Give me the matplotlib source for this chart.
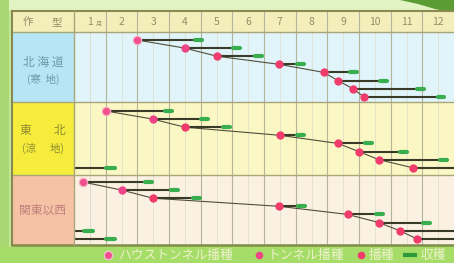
import matplotlib
matplotlib.use("Agg")
import matplotlib.pyplot as plt
from matplotlib.patches import Rectangle, Polygon
from matplotlib.lines import Line2D

plt.rcParams['font.family'] = ['Noto Sans CJK JP', 'DejaVu Sans']

# ---------------- data ----------------
months = ['1', '2', '3', '4', '5', '6', '7', '8', '9', '10', '11', '12']
regions = ['北海道', '東北', '関東以西']
region_sub = ['(寒 地)', '(涼 地)', '']

# month axis: month k spans [k-0.5, k+0.5]
hokkaido_sow = [2.49, 4.00, 5.01, 6.97, 8.39, 8.83, 9.30, 9.65]
hokkaido_end = [4.54, 5.74, 6.43, 7.76, 9.43, 10.37, 11.54, 12.20]
tohoku_sow = [1.51, 2.99, 4.00, 7.00, 8.83, 9.49, 10.12, 11.19]
tohoku_end = [3.59, 4.73, 5.42, 7.76, 9.90, 11.00, 12.27, 12.50]
tohoku_wrap_end = [None, None, None, None, None, None, None, 1.79]
kanto_sow = [0.78, 2.01, 2.99, 6.97, 9.14, 10.12, 10.78, 11.32]
kanto_end = [2.96, 3.78, 4.47, 7.79, 10.25, 11.73, 12.50, 12.50]
kanto_wrap_end = [None, None, None, None, None, None, 1.10, 1.79]
sow_type = ['house', 'tunnel', 'open', 'open', 'open', 'open', 'open', 'open']

legend_labels = ['ハウストンネル播種', 'トンネル播種', '播種', '収穫']

# ---------------- layout ----------------
W, H = 454, 263
fig = plt.figure(figsize=(W / 100, H / 100), dpi=100)
fig.patch.set_facecolor('#c4e89a')


def fx(x):
    return x / W


def fy(y):
    return 1 - y / H


def frect(x0, y0, x1, y1, fc, ec='none', lw=0, z=0):
    fig.add_artist(Rectangle((fx(x0), fy(y1)), fx(x1) - fx(x0), fy(y0) - fy(y1),
                             transform=fig.transFigure, facecolor=fc,
                             edgecolor=ec, linewidth=lw, zorder=z))


def fline(xs, ys, color, lw, z=2):
    fig.add_artist(Line2D([fx(v) for v in xs], [fy(v) for v in ys],
                          transform=fig.transFigure, color=color, lw=lw, zorder=z))


# outer decoration
frect(0, 0, W, 11, '#e2f3c4')
frect(0, 0, 9, H, '#a9d873')
frect(0, 247, W, H, '#a6dd68')
fig.add_artist(Polygon([(fx(400), fy(0)), (fx(454), fy(0)), (fx(454), fy(13)),
                        (fx(435), fy(9)), (fx(418), fy(4))],
                       transform=fig.transFigure, facecolor='#5c9c34',
                       edgecolor='none', zorder=1))

TL, LC, TR = 12, 74, 454
TT, HB = 11, 32
sec_bounds = [(32, 102), (102, 175), (175, 245)]
label_bg = ['#b6e6f6', '#f5ec3c', '#f5c2a6']
body_bg = ['#e0f4fa', '#fbf7c4', '#fbf1e2']
label_fg = ['#6c98a6', '#8f8830', '#bf7f7c']
hdr_fg = '#948e68'

# header
frect(TL, TT, TR, HB, '#f4eebb', z=1)
fig.text(fx(28), fy(22), '作', fontsize=7.5, color=hdr_fg, ha='center', va='center')
fig.text(fx(57), fy(22), '型', fontsize=7.5, color=hdr_fg, ha='center', va='center')

# label column
for i, (y0, y1) in enumerate(sec_bounds):
    frect(TL, y0, LC, y1, label_bg[i], z=1)

fig.text(fx(43), fy(62), '北 海 道', fontsize=8.5, color=label_fg[0], ha='center', va='center')
fig.text(fx(43), fy(79), '(寒  地)', fontsize=7.5, color=label_fg[0], ha='center', va='center')
fig.text(fx(25), fy(131), '東', fontsize=8.5, color=label_fg[1], ha='center', va='center')
fig.text(fx(60), fy(131), '北', fontsize=8.5, color=label_fg[1], ha='center', va='center')
fig.text(fx(43), fy(148), '(涼      地)', fontsize=7.5, color=label_fg[1], ha='center', va='center')
fig.text(fx(43), fy(210), '関東以西', fontsize=8.5, color=label_fg[2], ha='center', va='center')

# ---------------- body axes ----------------
ax = fig.add_axes([fx(LC), fy(245), fx(TR) - fx(LC), fy(TT) - fy(245)])
ax.set_xlim(0.5, 12.5)
ax.set_ylim(245, TT)
ax.axis('off')
ax.set_zorder(3)
ax.patch.set_alpha(0)

for i, (y0, y1) in enumerate(sec_bounds):
    ax.add_patch(Rectangle((0.5, y0), 12, y1 - y0, facecolor=body_bg[i],
                           edgecolor='none', zorder=0))
ax.add_patch(Rectangle((0.5, TT), 12, HB - TT, facecolor='#f4eebb', edgecolor='none', zorder=0))

for k in range(1, 13):
    ax.text(k, 22, months[k - 1], fontsize=7.5, color=hdr_fg, ha='center', va='center', zorder=5)
ax.text(1.3, 23.5, '月', fontsize=4.5, color=hdr_fg, ha='center', va='center', zorder=5)

# grid lines
for k in range(1, 12):
    ax.plot([k + 0.5, k + 0.5], [TT, 245], color='#b4b39c', lw=0.8, zorder=1)
    ax.plot([k, k], [HB, 245], color='#dcdccc', lw=0.5, zorder=1)
ax.plot([12, 12], [HB, 245], color='#dcdccc', lw=0.5, zorder=1)
ax.plot([1, 1], [HB, 245], color='#dcdccc', lw=0.5, zorder=1)

# borders (figure-level)
for y in [HB, 102, 175]:
    fline([TL, TR], [y, y], '#a8a678', 1.0, z=4)
fline([TL, TR], [TT, TT], '#8a8a50', 1.5, z=4)
fline([TL, TR], [245, 245], '#7f8a45', 1.8, z=4)
fline([TL, TL], [TT, 245], '#8a8a50', 1.5, z=4)
fline([LC, LC], [TT, 245], '#a8a678', 1.0, z=4)

sow_colors = {'house': '#f0508c', 'tunnel': '#ee4488', 'open': '#f03c6c'}
line_col = '#3a3a28'
green = '#38ae4e'


def draw_section(y_top, sows, ends, wraps):
    ys = [y_top + 8 + 8.1 * i for i in range(len(sows))]
    ax.plot(sows, ys, color='#4e4e3c', lw=0.8, zorder=2)
    for s, e, w, y, t in zip(sows, ends, wraps, ys, sow_type):
        ax.plot([s, e], [y, y], color=line_col, lw=1.5, zorder=3, solid_capstyle='butt')
        if e < 12.45:
            ax.plot([e - 0.22, e], [y, y], color=green, lw=3.0, zorder=4, solid_capstyle='round')
        if w is not None:
            ax.plot([0.5, w], [y, y], color=line_col, lw=1.5, zorder=3, solid_capstyle='butt')
            ax.plot([w - 0.28, w], [y, y], color=green, lw=3.0, zorder=4, solid_capstyle='round')
        if t == 'house':
            ax.plot([s], [y], 'o', ms=6, color=sow_colors[t], mec='#f8b0c8', mew=0.8, zorder=5)
        else:
            ax.plot([s], [y], 'o', ms=6, color=sow_colors[t], mec='none', zorder=5)


draw_section(32, hokkaido_sow, hokkaido_end, [None] * 8)
draw_section(103, tohoku_sow, tohoku_end, tohoku_wrap_end)
draw_section(174, kanto_sow, kanto_end, kanto_wrap_end)

# ---------------- legend ----------------
lx = fig.add_axes([0, 0, 1, 1])
lx.set_xlim(0, W)
lx.set_ylim(H, 0)
lx.axis('off')
lx.patch.set_alpha(0)
ly = 255
lc = '#eef2cc'
fs = 9.2
lx.plot([108], [ly], 'o', ms=6, color='#f0508c', mec='#f8c0d4', mew=0.9)
lx.text(118, ly, legend_labels[0], fontsize=fs, color=lc, va='center', ha='left')
lx.plot([259], [ly], 'o', ms=5.5, color='#ee4488', mec='none')
lx.text(268, ly, legend_labels[1], fontsize=fs, color=lc, va='center', ha='left')
lx.plot([361], [ly], 'o', ms=5.5, color='#f03c6c', mec='none')
lx.text(369, ly, legend_labels[2], fontsize=fs, color=lc, va='center', ha='left')
lx.plot([403, 417], [ly, ly], color='#2f9a3a', lw=3, solid_capstyle='butt')
lx.text(421, ly, legend_labels[3], fontsize=fs, color=lc, va='center', ha='left')

fig.savefig('out.png', dpi=100, facecolor=fig.get_facecolor())
